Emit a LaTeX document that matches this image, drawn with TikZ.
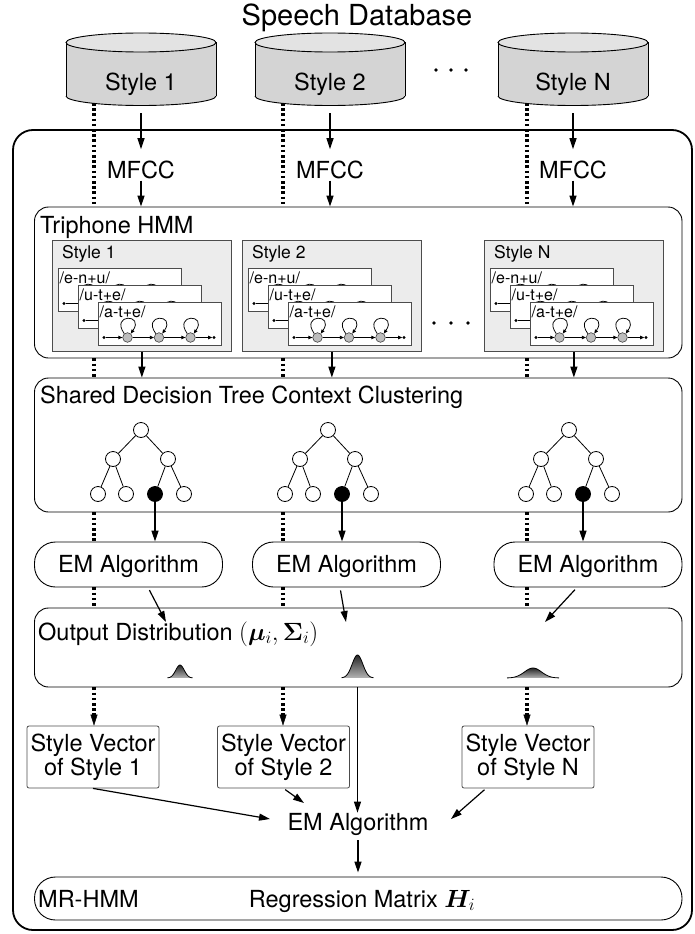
\documentclass[tikz,border=0pt]{standalone}
\usepackage{amsmath}
\usepackage{bm}
\usepackage{fontspec}
\setmainfont{TeX Gyre Heros}
\usetikzlibrary{arrows.meta,calc}

\definecolor{dbbody}{gray}{0.83}
\definecolor{dbtop}{gray}{0.89}
\definecolor{stylebg}{gray}{0.925}
\definecolor{boxline}{gray}{0.3}
\definecolor{stategray}{gray}{0.74}

\tikzset{
  hmmcard/.pic={
    \node[card, anchor=north west] (-box) at (0,0) {};
    \node[anchor=base west, inner sep=0pt, font=\fontsize{16}{17}\selectfont] (-lab) at (1.5,15) {#1};
    \node[endpt] (-a) at (6,35.5) {};
    \node[hmmstate] (-s1) at (29.5,35.5) {};
    \node[hmmstate] (-s2) at (61,35.5) {};
    \node[hmmstate] (-s3) at (92.5,35.5) {};
    \node[endpt] (-b) at (116,35.5) {};
    \draw[tinyarr] (-a) -- (-s1);
    \draw[tinyarr] (-s1) -- (-s2);
    \draw[tinyarr] (-s2) -- (-s3);
    \draw[tinyarr] (-s3) -- (-b);
    \draw[tinyarr] (-s1.130) .. controls +(-14,-20) and +(14,-20) .. (-s1.50);
    \draw[tinyarr] (-s2.130) .. controls +(-14,-20) and +(14,-20) .. (-s2.50);
    \draw[tinyarr] (-s3.130) .. controls +(-14,-20) and +(14,-20) .. (-s3.50);
  }
}

\begin{document}
\begin{tikzpicture}[x=1pt,y=-1pt,
  txt/.style={font=\fontsize{23.5}{24}\selectfont, inner sep=0pt},
  panel/.style={draw, line width=0.9pt, rounded corners=14pt, inner sep=0pt},
  capsule/.style={draw, line width=0.9pt, rounded corners=21pt, inner sep=0pt,
    font=\fontsize{23.5}{24}\selectfont, text height=16.9pt, text depth=0pt},
  arr/.style={line width=1.2pt, -{Triangle[length=11pt,width=7pt]}},
  dotcol/.style={line width=3.2pt, dash pattern=on 2.6pt off 2.6pt},
  dotarr/.style={dotcol, -{Triangle[length=11pt,width=7pt,line width=0.4pt]}},
  treenode/.style={circle, draw, line width=0.8pt, minimum size=15pt, inner sep=0pt, fill=white},
  leafsel/.style={treenode, fill=black},
  stylebox/.style={draw=boxline, fill=stylebg, line width=0.8pt, minimum width=179pt,
    minimum height=111pt, inner sep=0pt},
  card/.style={draw=boxline, fill=white, line width=0.7pt, minimum width=123pt,
    minimum height=42.5pt, inner sep=0pt},
  hmmstate/.style={circle, draw=black!75, fill=stategray, line width=0.6pt,
    minimum size=9.6pt, inner sep=0pt},
  endpt/.style={circle, fill=black, minimum size=3.2pt, inner sep=0pt},
  tinyarr/.style={line width=0.75pt, -{Triangle[length=4pt,width=3.4pt]}},
  svbox/.style={draw=boxline, line width=0.8pt, rounded corners=2pt, minimum width=132pt,
    minimum height=62pt, align=center, inner sep=0pt, font=\fontsize{23.5}{24}\selectfont},
]
\useasboundingbox (0,0) rectangle (694,934);

% outer frame
\node[draw, line width=1.8pt, rounded corners=20pt, minimum width=679pt,
  minimum height=800pt, inner sep=0pt] (frame) at (352.5,530) {};

% title
\node[txt, font=\fontsize{29}{30}\selectfont, anchor=base] (title) at (357,26) {Speech Database};

% database cylinders
\foreach \cx/\lab/\id in {141/Style 1/1, 330/Style 2/2, 573/Style N/3} {
  \fill[dbbody] (\cx-75,42.5) rectangle (\cx+75,96);
  \fill[dbbody] (\cx,96) ellipse (75 and 9.5);
  \begin{scope}
    \clip (\cx-77,96) rectangle (\cx+77,108);
    \draw[line width=0.9pt] (\cx,96) ellipse (75 and 9.5);
  \end{scope}
  \draw[line width=0.9pt] (\cx-75,42.5) -- (\cx-75,96) (\cx+75,42.5) -- (\cx+75,96);
  \draw[line width=0.9pt, fill=dbtop] (\cx,42.5) ellipse (75 and 9.5);
  \node[txt, anchor=base] (db\id) at (\cx,90) {\lab};
  \coordinate (dbb\id) at (\cx,103);
  \node[txt, anchor=base] (mf\id) at (\cx,178) {MFCC};
}
\foreach \x [count=\k] in {436,451,466}
  \node[endpt, minimum size=3.8pt] (topdot\k) at (\x,70) {};

% dotted columns
\coordinate (col1) at (94,0);
\coordinate (col2) at (283,0);
\coordinate (col3) at (527,0);

% triphone HMM panel
\node[panel, minimum width=647.5pt, minimum height=151pt] (tri) at (358.25,282.5) {};
\node[txt, anchor=base west] (trilab) at (40,233) {Triphone HMM};
\foreach \L/\lab/\id in {52/Style 1/1, 242/Style 2/2, 484/Style N/3} {
  \node[stylebox, anchor=north west] (sb\id) at (\L,240) {};
  \node[anchor=base west, inner sep=0pt, font=\fontsize{17.5}{18}\selectfont] (sbl\id) at (\L+10,258) {\lab};
  \pic (cA\id) at (\L+6,268) {hmmcard={/e-n+u/}};
  \pic (cB\id) at (\L+26,285) {hmmcard={/u-t+e/}};
  \pic (cC\id) at (\L+46,302) {hmmcard={/a-t+e/}};
}
\foreach \x [count=\k] in {434,451,468}
  \node[endpt, minimum size=3.8pt] (tridot\k) at (\x,323) {};

% shared decision tree panel
\node[panel, minimum width=647.5pt, minimum height=134pt] (shared) at (358.25,445) {};
\node[txt, anchor=base west] (sharedlab) at (40,403) {Shared Decision Tree Context Clustering};
\foreach \rx/\id in {141/1, 328/2, 569/3} {
  \node[treenode] (r\id) at (\rx,430) {};
  \node[treenode] (p\id) at (\rx-28,459) {};
  \node[treenode] (q\id) at (\rx+27,459) {};
  \node[treenode] (la\id) at (\rx-43,494) {};
  \node[treenode] (lb\id) at (\rx-15,494) {};
  \node[leafsel] (lc\id) at (\rx+14,494) {};
  \node[treenode] (ld\id) at (\rx+43,494) {};
  \draw[line width=0.8pt] (r\id) -- (p\id) (r\id) -- (q\id) (p\id) -- (la\id)
    (p\id) -- (lb\id) (q\id) -- (lc\id) (q\id) -- (ld\id);
}

% per-style EM boxes
\node[capsule, minimum width=188pt, minimum height=45pt] (em1) at (128.5,564.5) {EM Algorithm};
\node[capsule, minimum width=188pt, minimum height=45pt] (em2) at (346.5,564.5) {EM Algorithm};
\node[capsule, minimum width=188pt, minimum height=45pt] (em3) at (588,564.5) {EM Algorithm};

% output distribution panel
\node[panel, minimum width=647.5pt, minimum height=79pt] (out) at (358.25,647.5) {};
\node[txt, anchor=base west] (outlab) at (38,640) {Output Distribution $(\bm{\mu}_i, \bm{\Sigma}_i)$};
\foreach \c/\h/\s/\hw/\id in {180/13/4.2/12.5/1, 357.5/23/5.3/16/2, 533/10/8.5/26/3} {
  \shade[top color=black!85, bottom color=black!30]
    plot[domain=-\hw:\hw, samples=50, smooth] ({\c+\x},{678-\h*exp(-(\x*\x)/(2*\s*\s))}) -- cycle;
  \draw[line width=0.8pt]
    plot[domain=-\hw:\hw, samples=50, smooth] ({\c+\x},{678-\h*exp(-(\x*\x)/(2*\s*\s))});
  \coordinate (g\id) at (\c,678);
}

% style vectors
\node[svbox] (sv1) at (93,757) {Style Vector\\of Style 1};
\node[svbox] (sv2) at (283.5,757) {Style Vector\\of Style 2};
\node[svbox] (sv3) at (528,757) {Style Vector\\of Style N};

% global EM and regression matrix
\node[txt, anchor=base] (emb) at (358,830) {EM Algorithm};
\node[capsule, minimum width=647.5pt, minimum height=43pt] (reg) at (358.25,898.5) {};
\node[txt, anchor=base west] (mrhmm) at (38,907) {MR-HMM};
\node[txt, anchor=base] (reglab) at (362,907) {Regression Matrix $\bm{H}_i$};

% connectors per column
\foreach \id in {1,2,3} {
  \draw[dotcol] (dbb\id -| col\id) -- (tri.north -| col\id);
  \draw[dotcol] (tri.south -| col\id) -- (shared.north -| col\id);
  \draw[dotcol] (shared.south -| col\id) -- (em\id.north -| col\id);
  \draw[dotcol] (em\id.south -| col\id) -- (out.north -| col\id);
  \draw[dotarr] (out.south -| col\id) -- (sv\id.north -| col\id);
  \draw[arr, shorten <=10pt, shorten >=11pt] (dbb\id) -- (mf\id);
  \draw[arr, shorten <=2pt] (mf\id) -- (tri.north -| mf\id);
  \draw[arr] (sb\id.south) -- (shared.north -| sb\id.south);
  \draw[arr] (lc\id) -- (em\id.north -| lc\id);
}

% EM results into the output distribution
\coordinate (o1) at (166,622);
\coordinate (o2) at (346,622);
\coordinate (o3) at (545,622);
\draw[arr, shorten <=3pt] ([xshift=19.5pt]em1.south) -- (o1);
\draw[arr, shorten <=3pt] ([xshift=-6.5pt]em2.south) -- (o2);
\draw[arr, shorten <=3pt] ([xshift=-11pt]em3.south) -- (o3);

% inputs of the global EM step
\coordinate (i1) at (270,819);
\coordinate (i2) at (304,803);
\coordinate (i3) at (451,819);
\draw[arr] (sv1.south) -- (i1);
\draw[arr, shorten <=2pt] (sv2.south) -- (i2);
\draw[arr, shorten <=2pt] ([xshift=-42pt]sv3.south) -- (i3);
\draw[arr] (out.south -| g2) -- (emb.north -| g2);
\draw[arr, shorten <=5pt, shorten >=4pt] (emb.south) -- (reg.north -| emb.south);
\end{tikzpicture}
\end{document}
